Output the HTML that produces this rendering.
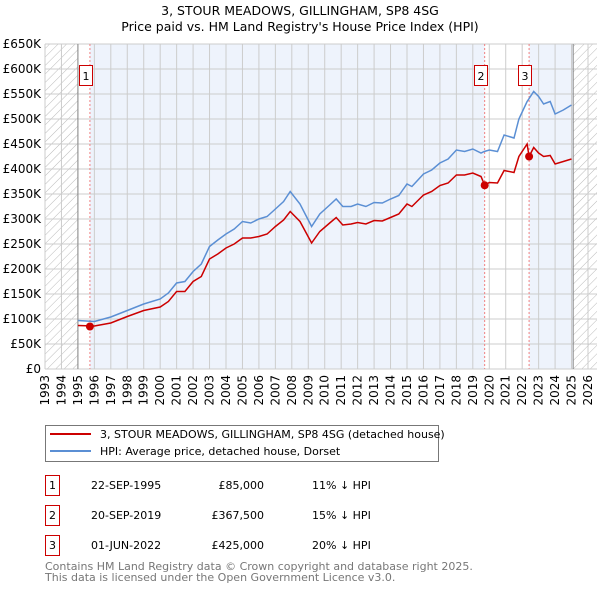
<!DOCTYPE html>
<html><head><meta charset="utf-8"><style>
body{margin:0;background:#fff;font-family:"Liberation Sans","DejaVu Sans",sans-serif;}
svg text{font-family:"DejaVu Sans","Liberation Sans",sans-serif;}
</style></head><body>
<svg id="c" width="600" height="590" xmlns="http://www.w3.org/2000/svg">
<defs><pattern id="h" width="6" height="6" patternUnits="userSpaceOnUse" patternTransform="rotate(45)"><line x1="0" y1="0" x2="0" y2="6" stroke="#bbb" stroke-width="1"/></pattern></defs>
<text x="300" y="15" text-anchor="middle" font-size="12.5">3, STOUR MEADOWS, GILLINGHAM, SP8 4SG</text>
<text x="300" y="31" text-anchor="middle" font-size="12.5">Price paid vs. HM Land Registry's House Price Index (HPI)</text>
<g id="plot"></g>
<g>
<rect x="45.5" y="425.5" width="393" height="36" fill="#fff" stroke="#777"/>
<line x1="50" y1="434" x2="91" y2="434" stroke="#cc0000" stroke-width="2"/>
<text x="100" y="438" font-size="11">3, STOUR MEADOWS, GILLINGHAM, SP8 4SG (detached house)</text>
<line x1="50" y1="451" x2="91" y2="451" stroke="#5b8fd4" stroke-width="2"/>
<text x="100" y="455" font-size="11">HPI: Average price, detached house, Dorset</text>
</g>
<g font-size="11">
<rect x="45.5" y="475.5" width="14" height="20" fill="#fff" stroke="#cc0000"/><text x="52.5" y="489" text-anchor="middle">1</text>
<text x="91" y="489">22-SEP-1995</text><text x="264" y="489" text-anchor="end">£85,000</text><text x="312" y="489">11% ↓ HPI</text>
<rect x="45.5" y="505.5" width="14" height="20" fill="#fff" stroke="#cc0000"/><text x="52.5" y="519" text-anchor="middle">2</text>
<text x="91" y="519">20-SEP-2019</text><text x="264" y="519" text-anchor="end">£367,500</text><text x="312" y="519">15% ↓ HPI</text>
<rect x="45.5" y="535.5" width="14" height="20" fill="#fff" stroke="#cc0000"/><text x="52.5" y="549" text-anchor="middle">3</text>
<text x="91" y="549">01-JUN-2022</text><text x="264" y="549" text-anchor="end">£425,000</text><text x="312" y="549">20% ↓ HPI</text>
</g>
<text x="45" y="570" font-size="11" fill="#777">Contains HM Land Registry data © Crown copyright and database right 2025.</text>
<text x="45" y="581" font-size="11" fill="#777">This data is licensed under the Open Government Licence v3.0.</text>
</svg>
<script>
const hpiYears=[1995.0,1996,1997,1998,1999,2000,2000.5,2001,2001.5,2002,2002.5,2003,2003.5,2004,2004.5,2005,2005.5,2006,2006.5,2007,2007.5,2007.9,2008.5,2009.2,2009.7,2010.3,2010.7,2011.1,2011.6,2012,2012.5,2013,2013.5,2014,2014.5,2015,2015.3,2016,2016.5,2017,2017.5,2018,2018.5,2019,2019.5,2019.7,2020,2020.5,2020.9,2021.5,2021.8,2022.3,2022.4,2022.7,2023,2023.3,2023.7,2024,2024.5,2025];
const hpiValues=[97,95,104,117,130,140,152,172,175,195,210,245,258,270,280,295,292,300,305,320,335,355,330,285,310,328,340,325,325,330,325,333,332,340,347,370,365,390,398,412,420,438,435,440,432,435,438,435,468,462,500,535,540,555,545,530,535,510,518,528];
const priceYears=[1995.0,1996,1997,1998,1999,2000,2000.5,2001,2001.5,2002,2002.5,2003,2003.5,2004,2004.5,2005,2005.5,2006,2006.5,2007,2007.5,2007.9,2008.5,2009.2,2009.7,2010.3,2010.7,2011.1,2011.6,2012,2012.5,2013,2013.5,2014,2014.5,2015,2015.3,2016,2016.5,2017,2017.5,2018,2018.5,2019,2019.5,2019.72,2020,2020.5,2020.9,2021.5,2021.8,2022.3,2022.42,2022.7,2023,2023.3,2023.7,2024,2024.5,2025];
const priceValues=[87,86,92,105,117,124,135,155,155,175,185,220,230,242,250,262,262,265,270,285,298,315,295,252,275,292,303,288,290,293,290,297,296,303,310,330,325,348,355,367,372,388,388,392,385,367.5,373,372,397,393,425,450,425,443,432,425,427,410,415,420];
const saleYears=[1995.73,2019.72,2022.42];
const saleValues=[85,367.5,425];
const saleLabels=["1","2","3"];
const yTicks=[0,50,100,150,200,250,300,350,400,450,500,550,600,650];
const yTickLabels=["£0","£50K","£100K","£150K","£200K","£250K","£300K","£350K","£400K","£450K","£500K","£550K","£600K","£650K"];
const xYears=[];for(let y=1993;y<=2026;y++)xYears.push(y);

const X0=45,X1=588,Y0=369,Y1=44;
const xs=y=>X0+(y-1993)*(X1-X0)/33;
const ys=v=>Y0-(v/650)*(Y0-Y1);
const NS="http://www.w3.org/2000/svg";
const g=document.getElementById('plot');
function mk(t,a){const e=document.createElementNS(NS,t);for(const k in a)e.setAttribute(k,a[k]);g.appendChild(e);return e;}
let e;
e=mk('rect',{x:X0,y:Y1,width:xs(1995)-X0,height:Y0-Y1,fill:'url(#h)'});

e=mk('rect',{x:xs(2025.1),y:Y1,width:X1-xs(2025.1)+9,height:Y0-Y1,fill:'url(#h)'});

e=mk('rect',{x:xs(saleYears[0]),y:Y1,width:xs(saleYears[1])-xs(saleYears[0]),height:Y0-Y1,fill:'#eef3fc'});

e=mk('rect',{x:xs(saleYears[2]),y:Y1,width:xs(2025.1)-xs(saleYears[2]),height:Y0-Y1,fill:'#eef3fc'});

yTicks.forEach((v,i)=>{
 e=mk('line',{x1:X0,x2:X1+9,y1:ys(v),y2:ys(v),stroke:'#ccc','stroke-width':1});
 
 e=mk('text',{x:X0-4,y:ys(v)+4,'text-anchor':'end','font-size':12});e.textContent=yTickLabels[i];
 
});
xYears.forEach(y=>{
 e=mk('line',{x1:xs(y),x2:xs(y),y1:Y1,y2:Y0,stroke:'#ccc','stroke-width':1});
 
 e=mk('text',{x:0,y:0,'text-anchor':'end','font-size':12,transform:`translate(${xs(y)+4},${Y0+6}) rotate(-90)`});e.textContent=y;
 
});
[1995,2025.1].forEach(y=>{e=mk('line',{x1:xs(y),x2:xs(y),y1:Y1,y2:Y0,stroke:'#888','stroke-width':1});
 });
saleYears.forEach(y=>{e=mk('line',{x1:xs(y),x2:xs(y),y1:Y1,y2:Y0,stroke:'#f08080','stroke-width':1,'stroke-dasharray':'2,2'});
 });
function line(xa,va,col,name){const d=xa.map((x,i)=>(i?'L':'M')+xs(x).toFixed(1)+','+ys(va[i]).toFixed(1)).join('');
 e=mk('path',{d,fill:'none',stroke:col,'stroke-width':1.5});}
line(hpiYears,hpiValues,'#5b8fd4','hpi-line');
line(priceYears,priceValues,'#cc0000','price-paid-line');
saleYears.forEach((y,i)=>{
 e=mk('circle',{cx:xs(y),cy:ys(saleValues[i]),r:4,fill:'#cc0000'});
 
 const bx=Math.round(xs(y))-11;
 e=mk('rect',{x:bx+0.5,y:65.5,width:13,height:20,fill:'#fff',stroke:'#cc0000'});
 
 e=mk('text',{x:bx+7,y:80,'text-anchor':'middle','font-size':11});e.textContent=saleLabels[i];
 
});
</script>
</body></html>
